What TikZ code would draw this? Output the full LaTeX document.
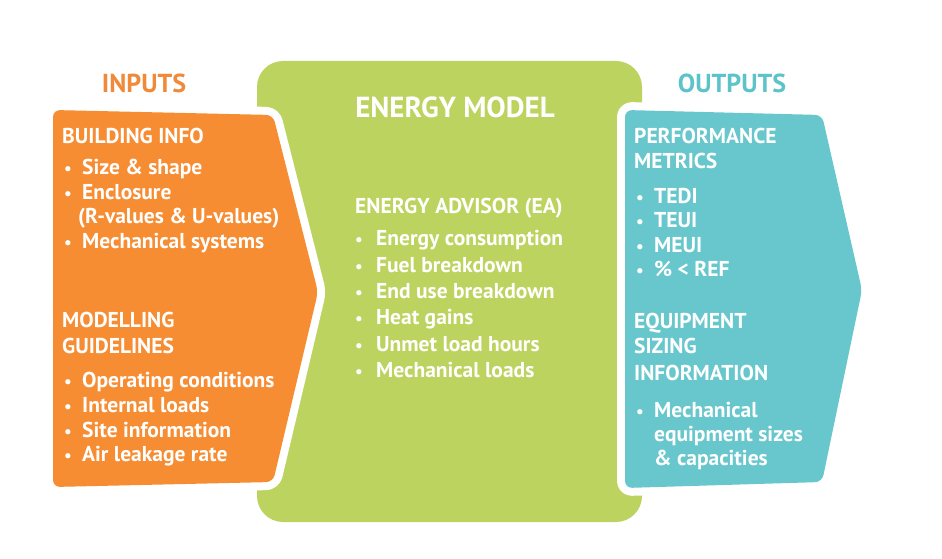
\documentclass[tikz,border=0pt]{standalone}
\usepackage{fontspec}
\setmainfont{PT Sans}
\definecolor{orng}{HTML}{F68D33}
\definecolor{grn}{HTML}{BCD35F}
\definecolor{teal2}{HTML}{68C7CC}
\definecolor{ttlorng}{HTML}{F08A3A}
\definecolor{ttlteal}{HTML}{5EC3C8}
\begin{document}
\begin{tikzpicture}[x=1pt,y=-1pt,
  txt/.style={anchor=base west, inner sep=0pt, text=white, font=\bfseries\fontsize{21.5}{25}\selectfont},
  bul/.style={anchor=base, inner sep=0pt, text=white, font=\bfseries\fontsize{17}{20}\selectfont},
  ttl/.style={anchor=base, inner sep=0pt, font=\bfseries\fontsize{26}{30}\selectfont},
  panel/.style={rounded corners=7pt, preaction={draw=white, line width=16pt, line join=round}}]
\useasboundingbox (0,0) rectangle (942,559);
% green centre
\fill[grn, rounded corners=26pt] (257,61) rectangle (642,522);
% orange input arrow
\path[panel, fill=orng] (53,110) -- (273,115) -- (318,292) -- (273,482) -- (53,487) -- cycle;
% teal output arrow
\path[panel, fill=teal2] (625,110) -- (822,115) -- (862,290) -- (822,482) -- (625,488) -- cycle;
% titles
\node[ttl, text=ttlorng] (tin) at (144,93) {INPUTS};
\node[ttl, text=ttlteal] (tout) at (732,93) {OUTPUTS};
\node[ttl, text=white, font=\bfseries\fontsize{29}{33}\selectfont] (tmod) at (455,118) {ENERGY MODEL};
% inputs
\node[txt] (bi) at (62,143) {BUILDING INFO};
\node[bul] (bib1) at (68,175) {•};
\node[txt] (bi1) at (82,175) {Size \& shape};
\node[bul] (bib2) at (68,199) {•};
\node[txt] (bi2) at (82,199) {Enclosure};
\node[txt] (bi2b) at (78,223) {(R-values \& U-values)};
\node[bul] (bib3) at (68,248) {•};
\node[txt] (bi3) at (82,248) {Mechanical systems};
\node[txt] (mg) at (62,327) {MODELLING};
\node[txt] (mg0) at (62,353) {GUIDELINES};
\node[bul] (mgb1) at (68,387) {•};
\node[txt] (mg1) at (82,387) {Operating conditions};
\node[bul] (mgb2) at (68,412) {•};
\node[txt] (mg2) at (82,412) {Internal loads};
\node[bul] (mgb3) at (68,437) {•};
\node[txt] (mg3) at (82,437) {Site information};
\node[bul] (mgb4) at (68,461) {•};
\node[txt] (mg4) at (82,461) {Air leakage rate};
% model
\node[txt] (ea) at (355,213) {ENERGY ADVISOR (EA)};
\node[bul] (eab1) at (359,245) {•};
\node[txt] (ea1) at (376,245) {Energy consumption};
\node[bul] (eab2) at (359,272) {•};
\node[txt] (ea2) at (376,272) {Fuel breakdown};
\node[bul] (eab3) at (359,298) {•};
\node[txt] (ea3) at (376,298) {End use breakdown};
\node[bul] (eab4) at (359,324) {•};
\node[txt] (ea4) at (376,324) {Heat gains};
\node[bul] (eab5) at (359,351) {•};
\node[txt] (ea5) at (376,351) {Unmet load hours};
\node[bul] (eab6) at (359,377) {•};
\node[txt] (ea6) at (376,377) {Mechanical loads};
% outputs
\node[txt] (pm) at (634,143) {PERFORMANCE};
\node[txt] (pm0) at (634,168) {METRICS};
\node[bul] (pmb1) at (640,203) {•};
\node[txt] (pm1) at (654,203) {TEDI};
\node[bul] (pmb2) at (640,227) {•};
\node[txt] (pm2) at (654,227) {TEUI};
\node[bul] (pmb3) at (640,252) {•};
\node[txt] (pm3) at (654,252) {MEUI};
\node[bul] (pmb4) at (640,276) {•};
\node[txt] (pm4) at (654,276) {\% < REF};
\node[txt] (es) at (634,328) {EQUIPMENT};
\node[txt] (es0) at (634,353) {SIZING};
\node[txt] (es00) at (634,380) {INFORMATION};
\node[bul] (esb1) at (640,417) {•};
\node[txt] (es1) at (654,417) {Mechanical};
\node[txt] (es2) at (654,441) {equipment sizes};
\node[txt] (es3) at (654,465) {\& capacities};
\end{tikzpicture}
\end{document}
